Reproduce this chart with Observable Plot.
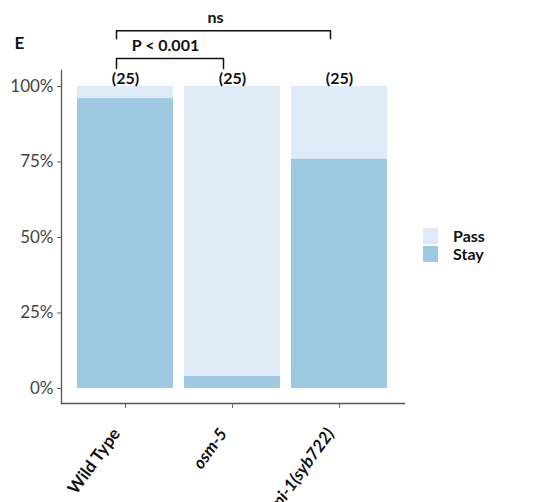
<!DOCTYPE html>
<html>
<head>
<meta charset="utf-8">
<script src="https://cdn.jsdelivr.net/npm/d3@7"></script>
<script src="https://cdn.jsdelivr.net/npm/@observablehq/plot@0.6"></script>
<style>
  html, body { margin: 0; padding: 0; background: #fff; }
  #wrap { position: relative; width: 551px; height: 502px; overflow: hidden; font-family: Lato, "Open Sans", sans-serif; }
  #legend { position: absolute; left: 423px; top: 227px; font-weight: bold; font-size: 16px; color: #111; line-height: 18px; }
  .row { display: flex; align-items: center; height: 18px; line-height: 18px; }
  .sw { width: 15px; height: 16px; margin-right: 15px; }
</style>
</head>
<body>
<div id="wrap"></div>
<script>
const categories = ["Wild Type", "osm-5", "pi-1(syb722)"];
const italic = [false, true, true];
const stay = [0.96, 0.04, 0.76];
const pass = [0.04, 0.96, 0.24];
const nLabels = ["(25)", "(25)", "(25)"];
const statuses = ["Pass", "Stay"];
const colors = ["#deebf7", "#9ecae1"];
const yTicks = [0, 0.25, 0.5, 0.75, 1];
const comparisons = [
  {a: "Wild Type", b: "osm-5", label: "P < 0.001", top: 1.093, foot: 1.06},
  {a: "Wild Type", b: "pi-1(syb722)", label: "ns", top: 1.185, foot: 1.158}
];

const rows = [];
categories.forEach((c, i) => {
  rows.push({genotype: c, status: "Stay", value: stay[i]});
  rows.push({genotype: c, status: "Pass", value: pass[i]});
});

const bracketLines = comparisons.map(c => [
  {x: c.a, y: c.foot}, {x: c.a, y: c.top}, {x: c.b, y: c.top}, {x: c.b, y: c.foot}
]);

const font = "Lato, 'Open Sans', sans-serif";

const plot = Plot.plot({
  width: 551,
  height: 502,
  marginLeft: 61,
  marginRight: 147,
  marginTop: 70,
  marginBottom: 99,
  style: {fontFamily: font, background: "#fff"},
  x: {domain: categories, type: "band", paddingInner: 0.1, paddingOuter: 0.14},
  y: {domain: [0, 1], range: [388, 86]},
  color: {domain: statuses, range: colors},
  marks: [
    Plot.barY(rows, {x: "genotype", y: "value", fill: "status", order: ["Stay", "Pass"]}),
    Plot.frame({anchor: "left", stroke: "#555", strokeWidth: 1.3}),
    Plot.frame({anchor: "bottom", stroke: "#555", strokeWidth: 1.3}),
    Plot.axisY({ticks: yTicks, tickFormat: d3.format(".0%"), tickSize: 4, tickPadding: 4, fontSize: 17, color: "#444", stroke: "#666", label: null}),
    Plot.axisX({tickSize: 5, tickFormat: () => "", label: null, stroke: "#666"}),
    Plot.text(categories.filter((c, i) => !italic[i]), {x: d => d, frameAnchor: "bottom", rotate: -54, textAnchor: "end", lineAnchor: "middle", dx: -9, dy: 27, fontSize: 17, fontWeight: "bold", fill: "#111"}),
    Plot.text(categories.filter((c, i) => italic[i]), {x: d => d, frameAnchor: "bottom", rotate: -54, textAnchor: "end", lineAnchor: "middle", dx: -9, dy: 27, fontSize: 17, fontWeight: "bold", fontStyle: "italic", fill: "#111"}),
    Plot.text(categories.map((c, i) => ({x: c, label: nLabels[i]})), {x: "x", y: () => 1, text: "label", dy: -8, fontSize: 16, fontWeight: "bold", fill: "#111"}),
    ...bracketLines.map(b => Plot.line(b, {x: "x", y: "y", dx: -9, stroke: "#111", strokeWidth: 1.5})),
    Plot.text([comparisons[0]], {x: "a", y: () => 1.136, text: "label", dx: 40, fontSize: 16, fontWeight: "bold", fill: "#111"}),
    Plot.text([comparisons[1]], {x: "b", y: () => 1.228, text: "label", dx: -124, fontSize: 16, fontWeight: "bold", fill: "#111"}),
    Plot.text(["E"], {frameAnchor: "top-left", text: d => d, dx: -47, dy: -34, textAnchor: "start", fontSize: 17, fontWeight: "bold", fill: "#111"})
  ]
});

const wrap = document.getElementById("wrap");
wrap.appendChild(plot);
const legend = document.createElement("div");
legend.id = "legend";
statuses.forEach((s, i) => {
  const row = document.createElement("div");
  row.className = "row";
  const sw = document.createElement("div");
  sw.className = "sw";
  sw.style.background = colors[i];
  const t = document.createElement("span");
  t.textContent = s;
  row.appendChild(sw);
  row.appendChild(t);
  legend.appendChild(row);
});
wrap.appendChild(legend);
</script>
</body>
</html>
